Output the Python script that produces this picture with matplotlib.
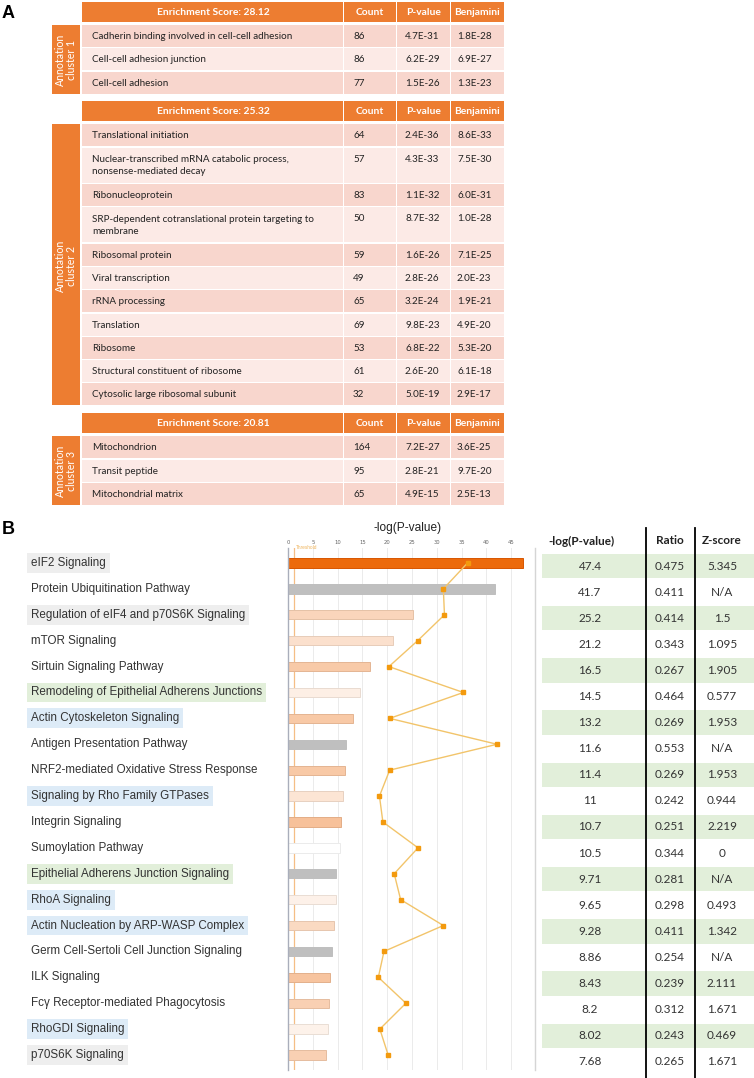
import numpy as np
import matplotlib.pyplot as plt
import matplotlib.transforms as mtransforms
from matplotlib.patches import Rectangle
from matplotlib.colors import to_rgb

# ---------------- Panel A : DAVID clusters ----------------
cluster_scores = ["Enrichment Score: 28.12", "Enrichment Score: 25.32", "Enrichment Score: 20.81"]
cluster_names = ["Annotation\ncluster 1", "Annotation\ncluster 2", "Annotation\ncluster 3"]
cluster_terms = [
    ["Cadherin binding involved in cell-cell adhesion",
     "Cell-cell adhesion junction",
     "Cell-cell adhesion"],
    ["Translational initiation",
     "Nuclear-transcribed mRNA catabolic process,\nnonsense-mediated decay",
     "Ribonucleoprotein",
     "SRP-dependent cotranslational protein targeting to\nmembrane",
     "Ribosomal protein",
     "Viral transcription",
     "rRNA processing",
     "Translation",
     "Ribosome",
     "Structural constituent of ribosome",
     "Cytosolic large ribosomal subunit"],
    ["Mitochondrion",
     "Transit peptide",
     "Mitochondrial matrix"],
]
cluster_counts = [[86, 86, 77],
                  [64, 57, 83, 50, 59, 49, 65, 69, 53, 61, 32],
                  [164, 95, 65]]
cluster_pvals = [["4.7E-31", "6.2E-29", "1.5E-26"],
                 ["2.4E-36", "4.3E-33", "1.1E-32", "8.7E-32", "1.6E-26", "2.8E-26",
                  "3.2E-24", "9.8E-23", "6.8E-22", "2.6E-20", "5.0E-19"],
                 ["7.2E-27", "2.8E-21", "4.9E-15"]]
cluster_benj = [["1.8E-28", "6.9E-27", "1.3E-23"],
                ["8.6E-33", "7.5E-30", "6.0E-31", "1.0E-28", "7.1E-25", "2.0E-23",
                 "1.9E-21", "4.9E-20", "5.3E-20", "6.1E-18", "2.9E-17"],
                ["3.6E-25", "9.7E-20", "2.5E-13"]]
header_cols = ["Count", "P-value", "Benjamini"]

# ---------------- Panel B : IPA canonical pathways ----------------
pathways = ["eIF2 Signaling", "Protein Ubiquitination Pathway",
            "Regulation of eIF4 and p70S6K Signaling", "mTOR Signaling",
            "Sirtuin Signaling Pathway", "Remodeling of Epithelial Adherens Junctions",
            "Actin Cytoskeleton Signaling", "Antigen Presentation Pathway",
            "NRF2-mediated Oxidative Stress Response", "Signaling by Rho Family GTPases",
            "Integrin Signaling", "Sumoylation Pathway",
            "Epithelial Adherens Junction Signaling", "RhoA Signaling",
            "Actin Nucleation by ARP-WASP Complex", "Germ Cell-Sertoli Cell Junction Signaling",
            "ILK Signaling", "Fc\u03b3 Receptor-mediated Phagocytosis",
            "RhoGDI Signaling", "p70S6K Signaling"]
neglogp = [47.4, 41.7, 25.2, 21.2, 16.5, 14.5, 13.2, 11.6, 11.4, 11,
           10.7, 10.5, 9.71, 9.65, 9.28, 8.86, 8.43, 8.2, 8.02, 7.68]
ratio = [0.475, 0.411, 0.414, 0.343, 0.267, 0.464, 0.269, 0.553, 0.269, 0.242,
         0.251, 0.344, 0.281, 0.298, 0.411, 0.254, 0.239, 0.312, 0.243, 0.265]
zscore = ["5.345", "N/A", "1.5", "1.095", "1.905", "0.577", "1.953", "N/A", "1.953", "0.944",
          "2.219", "0", "N/A", "0.493", "1.342", "N/A", "2.111", "1.671", "0.469", "1.671"]
# label highlight group: g = grey, e = green, b = blue, '' = none
highlight = ["g", "", "g", "", "", "e", "b", "", "", "b",
             "", "", "e", "b", "b", "", "", "", "b", "g"]
table_cols = ["-log(P-value)", "Ratio", "Z-score"]

W, H = 754, 1078
fig = plt.figure(figsize=(W / 100, H / 100), dpi=100)
bg = fig.add_axes([0, 0, 1, 1])
bg.set_xlim(0, W)
bg.set_ylim(H, 0)
bg.axis("off")

calibri = ["Lato", "DejaVu Sans"]
arial = ["Liberation Sans", "DejaVu Sans"]
orange = "#ED7D31"
pink_dark = "#F8D6CD"
pink_light = "#FCEAE6"
fsA = 7.1

# ---------- Panel A ----------
bg.text(2, 13, "A", fontsize=13, fontweight="bold", family=arial, va="center")

col_x = [82, 344, 397, 451, 505]   # column edges
y = 2
for c in range(3):
    # header
    for j in range(4):
        bg.add_patch(Rectangle((col_x[j], y), col_x[j + 1] - col_x[j] - 1.5, 20,
                               fc=orange, ec="none"))
    bg.text((col_x[0] + col_x[1]) / 2, y + 10.5, cluster_scores[c], color="white",
            fontsize=7.4, fontweight="bold", family=calibri, ha="center", va="center")
    for j, h in enumerate(header_cols):
        bg.text((col_x[j + 1] + col_x[j + 2] - 1.5) / 2, y + 10.5, h, color="white",
                fontsize=7.4, fontweight="bold", family=calibri, ha="center", va="center")
    y += 23
    y0 = y
    for i, term in enumerate(cluster_terms[c]):
        h = 35 if "\n" in term else 22
        fc = pink_dark if i % 2 == 0 else pink_light
        for j in range(4):
            bg.add_patch(Rectangle((col_x[j], y), col_x[j + 1] - col_x[j] - 1.5, h,
                                   fc=fc, ec="none"))
        bg.text(92, y + h / 2 + 0.5, term, fontsize=fsA, family=calibri, color="#222222",
                va="center", linespacing=1.35)
        ty = y + 11.5
        bg.text(353, ty, str(cluster_counts[c][i]), fontsize=fsA, family=calibri,
                color="#222222", va="center")
        bg.text(405, ty, cluster_pvals[c][i], fontsize=fsA, family=calibri,
                color="#222222", va="center")
        bg.text(457, ty, cluster_benj[c][i], fontsize=fsA, family=calibri,
                color="#222222", va="center")
        y += h + 1.3
    # side box
    bg.add_patch(Rectangle((52, y0), 28, y - y0 - 1.3, fc=orange, ec="none"))
    bg.text(66, (y0 + y) / 2, cluster_names[c], rotation=90, color="white", fontsize=7.6,
            family=calibri, ha="center", va="center", linespacing=1.05)
    y += 6.5

# ---------- Panel B ----------
bg.text(2, 529.5, "B", fontsize=13, fontweight="bold", family=arial, va="center")

n = len(pathways)
rows = np.arange(n)
ax = fig.add_axes([288 / W, 1 - 1070 / H, (535 - 288) / W, (1070 - 548) / H])
ax2 = ax.twiny()

ax.set_xlim(0, 49.8)
ax.set_ylim(n - 0.42, -0.58)

cmap_hi = np.array(to_rgb("#EC6A0C"))
bar_colors, edge_colors = [], []
for z in zscore:
    if z == "N/A":
        bar_colors.append("#BFBFBF")
        edge_colors.append("#BFBFBF")
    else:
        f = float(z) / 5.345
        c = 1 - f * (1 - cmap_hi)
        bar_colors.append(tuple(c))
        edge_colors.append(tuple(np.clip(c - 0.08, 0, 1)))

ax.barh(rows, neglogp, height=0.36, color=bar_colors, edgecolor=edge_colors, linewidth=0.7,
        zorder=2)
ax.axvline(1.3, color="#F5BE85", lw=0.9, zorder=1)
ax.text(1.6, -0.5, "Threshold", fontsize=3.4, color="#EFB35A", va="bottom", family=arial)

ax.xaxis.tick_top()
ax.set_xticks(np.arange(0, 50, 5))
ax.tick_params(axis="x", which="both", top=True, bottom=False, labeltop=True,
               labelbottom=False, length=0, labelsize=3.8, labelcolor="#666666", pad=2.5)
ax.set_yticks([])
ax.grid(axis="x", color="#EBEBEB", lw=0.7, zorder=0)
for s in ["top", "bottom"]:
    ax.spines[s].set_visible(False)
ax.spines["left"].set_color("#A9AEBB")
ax.spines["left"].set_linewidth(1.0)
ax.spines["right"].set_color("#D5D5D5")
ax.spines["right"].set_linewidth(1.0)

ax2.set_xlim(0, 49.8 / 76.2)
ax2.plot(ratio, rows, color="#F2C46A", lw=1.0, marker="s", ms=3.3,
         mfc="#F39A0E", mec="#F39A0E", zorder=3)
ax2.axis("off")

fig.text(408 / W, 1 - 528 / H, "-log(P-value)", fontsize=8.6, family=arial,
         ha="center", va="center", color="#222222")

# pathway labels
blend = mtransforms.blended_transform_factory(bg.transData, ax.transData)
hl_colors = {"g": "#EEEEEE", "e": "#E2EFDA", "b": "#DDEBF7"}
for i, name in enumerate(pathways):
    kw = {}
    if highlight[i]:
        kw["bbox"] = dict(boxstyle="square,pad=0.34", fc=hl_colors[highlight[i]], ec="none")
    bg.text(31, i, name, transform=blend, fontsize=8.4, family=arial, color="#333333",
            va="center", **kw)

# right table
tab_y0, tab_dy = 566, 26.1
tab_x = [590, 670, 722]
head_x = [581, 670, 722]
for i in range(n):
    ty = tab_y0 + i * tab_dy
    if i % 2 == 0:
        bg.add_patch(Rectangle((542, ty - tab_dy / 2 + 0.8), W - 542, tab_dy - 1.6,
                               fc="#E2EFDA", ec="none"))
    vals = [f"{neglogp[i]:g}", f"{ratio[i]:.3f}", zscore[i]]
    for x, v in zip(tab_x, vals):
        bg.text(x, ty, v, fontsize=8.5, family=calibri, color="#333333",
                ha="center", va="center")
for x, h in zip(head_x, table_cols):
    bg.text(x, 541, h, fontsize=8.5, fontweight="bold", family=calibri, color="#222222",
            ha="center", va="center")
for x in [646, 695]:
    bg.plot([x, x], [528, H], color="black", lw=1.3)

fig.savefig("out.png", dpi=100)
